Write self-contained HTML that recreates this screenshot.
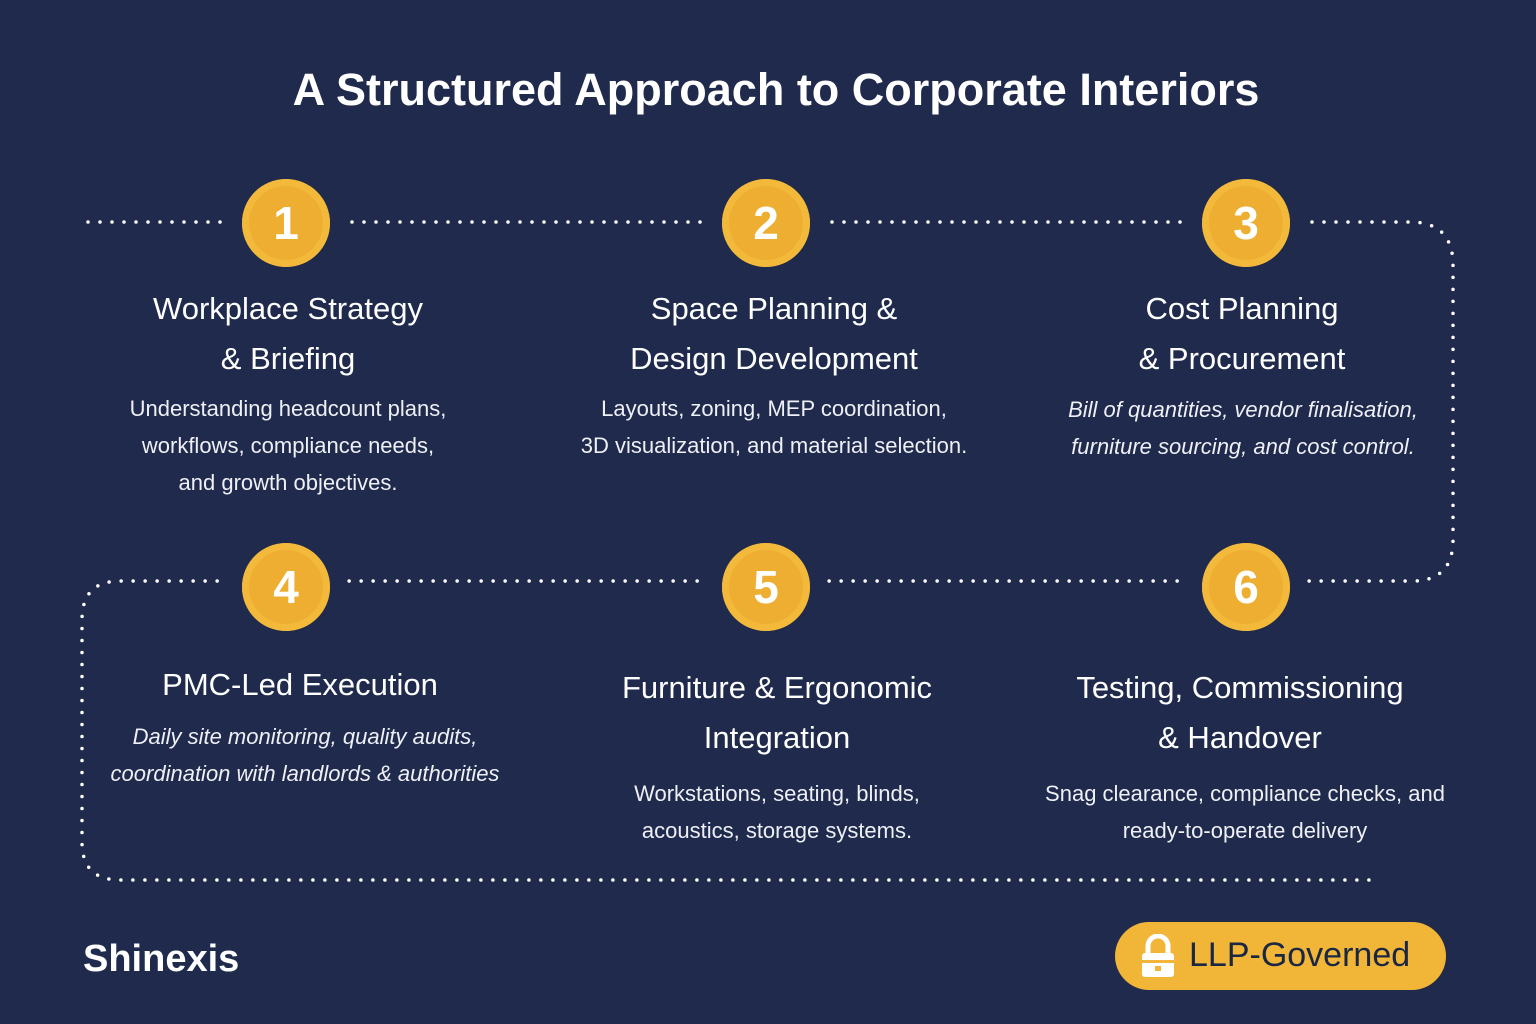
<!DOCTYPE html>
<html><head><meta charset="utf-8"><style>
html,body{margin:0;padding:0}
body{width:1536px;height:1024px;background:#1f2a4d;position:relative;overflow:hidden;font-family:"Liberation Sans","DejaVu Sans",sans-serif;color:#fff}
.t{position:absolute;text-align:center;white-space:nowrap}
h1{position:absolute;left:0;width:1552px;top:64px;margin:0;text-align:center;font-size:45px;font-weight:bold;color:#fff}
.c{position:absolute;width:88px;height:88px;border-radius:50%;background:#edae32;box-shadow:inset 0 0 0 7px #f3b93a;color:#fff;font-weight:bold;font-size:46px;line-height:88px;text-align:center}
.h{font-size:31px;line-height:50px}
.b{font-size:22px;line-height:37px;color:#eef0f5}
.i{font-style:italic}
</style></head><body>
<svg width="1536" height="1024" style="position:absolute;left:0;top:0">
<path d="M88 222 H1410 Q1453 222 1453 265 V540 Q1453 581 1412 581 H120 Q82 581 82 620 V842 Q82 880 120 880 H1380" fill="none" stroke="#fff" stroke-width="3.5" stroke-linecap="round" stroke-dasharray="0 12"/>
<rect x="225" y="160" width="122" height="124" fill="#1f2a4d"/>
<rect x="705" y="160" width="122" height="124" fill="#1f2a4d"/>
<rect x="1185" y="160" width="122" height="124" fill="#1f2a4d"/>
<rect x="225" y="525" width="122" height="124" fill="#1f2a4d"/>
<rect x="705" y="525" width="122" height="124" fill="#1f2a4d"/>
<rect x="1185" y="525" width="122" height="124" fill="#1f2a4d"/>
</svg>
<h1>A Structured Approach to Corporate Interiors</h1>
<div class="c" style="left:242px;top:179px">1</div>
<div class="c" style="left:722px;top:179px">2</div>
<div class="c" style="left:1202px;top:179px">3</div>
<div class="c" style="left:242px;top:543px">4</div>
<div class="c" style="left:722px;top:543px">5</div>
<div class="c" style="left:1202px;top:543px">6</div>

<div class="t h" style="left:88px;width:400px;top:284px">Workplace Strategy<br>&amp; Briefing</div>
<div class="t b" style="left:88px;width:400px;top:390px">Understanding headcount plans,<br>workflows, compliance needs,<br>and growth objectives.</div>

<div class="t h" style="left:574px;width:400px;top:284px">Space Planning &amp;<br>Design Development</div>
<div class="t b" style="left:524px;width:500px;top:390px">Layouts, zoning, MEP coordination,<br>3D visualization, and material selection.</div>

<div class="t h" style="left:1042px;width:400px;top:284px">Cost Planning<br>&amp; Procurement</div>
<div class="t b i" style="left:1018px;width:450px;top:391px">Bill of quantities, vendor finalisation,<br>furniture sourcing, and cost control.</div>

<div class="t h" style="left:100px;width:400px;top:660px">PMC-Led Execution</div>
<div class="t b i" style="left:80px;width:450px;top:718px">Daily site monitoring, quality audits,<br>coordination with landlords &amp; authorities</div>

<div class="t h" style="left:527px;width:500px;top:663px">Furniture &amp; Ergonomic<br>Integration</div>
<div class="t b" style="left:527px;width:500px;top:775px">Workstations, seating, blinds,<br>acoustics, storage systems.</div>

<div class="t h" style="left:990px;width:500px;top:663px">Testing, Commissioning<br>&amp; Handover</div>
<div class="t b" style="left:990px;width:510px;top:775px">Snag clearance, compliance checks, and<br>ready-to-operate delivery</div>

<div class="t" style="left:83px;top:938px;font-size:38px;font-weight:bold">Shinexis</div>
<div style="position:absolute;left:1115px;top:922px;width:331px;height:68px;border-radius:34px;background:#f1b537">
<svg width="36" height="44" style="position:absolute;left:25px;top:12px"><path d="M8 20 V12 A10 10 0 0 1 28 12 V20" fill="none" stroke="#fff" stroke-width="5"/><rect x="2" y="19" width="32" height="24" rx="3" fill="#fff"/><rect x="2" y="26" width="32" height="3" fill="#f1b537"/><rect x="15" y="32" width="6" height="5" fill="#f1b537"/></svg>
<div style="position:absolute;left:74px;top:14px;font-size:34px;color:#1a2744">LLP-Governed</div>
</div>
</body></html>
